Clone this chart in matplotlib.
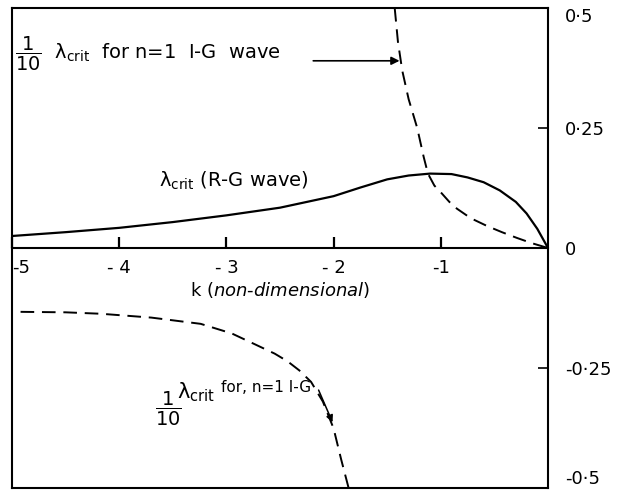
import numpy as np
import matplotlib.pyplot as plt

plt.rcParams['font.family'] = 'DejaVu Sans'
plt.rcParams['mathtext.fontset'] = 'dejavusans'

# R-G wave critical value (solid)
k_rg = [-5.0, -4.5, -4.0, -3.5, -3.0, -2.5, -2.0, -1.75, -1.5, -1.3, -1.1,
        -0.9, -0.75, -0.6, -0.45, -0.3, -0.2, -0.1, 0.0]
lam_rg = [0.025, 0.033, 0.042, 0.054, 0.068, 0.084, 0.108, 0.126, 0.143, 0.151,
          0.155, 0.154, 0.147, 0.137, 0.120, 0.096, 0.072, 0.040, 0.0]

# n=1 I-G wave, upper branch (dashed, scaled by 1/10)
k_ig_up = [-1.43, -1.40, -1.36, -1.30, -1.22, -1.16, -1.12, -1.06, -1.0, -0.92,
           -0.85, -0.72, -0.57, -0.43, -0.29, -0.15, 0.0]
lam_ig_up = [0.50, 0.43, 0.37, 0.31, 0.25, 0.19, 0.155, 0.13, 0.116, 0.096,
             0.082, 0.062, 0.046, 0.033, 0.021, 0.010, 0.0]

# n=1 I-G wave, lower branch
k_ig_lo = [-4.92, -4.5, -4.17, -3.7, -3.24, -2.95, -2.74, -2.55, -2.43, -2.32,
           -2.21, -2.1, -2.0, -1.93, -1.86]
lam_ig_lo = [-0.133, -0.134, -0.137, -0.145, -0.158, -0.178, -0.20, -0.22, -0.236,
             -0.255, -0.279, -0.32, -0.376, -0.44, -0.50]

k_ticks = [-5, -4, -3, -2, -1]
k_labels = ['-5', '- 4', '- 3', '- 2', '-1']
y_ticks = [-0.5, -0.25, 0, 0.25, 0.5]
y_labels = ['-0\u00b75', '-0\u00b725', '0', '0\u00b725', '0\u00b75']

fig = plt.figure(figsize=(6.26, 4.91), dpi=100)
ax = fig.add_axes([12 / 626, 3 / 491, 536 / 626, 480 / 491])

ax.plot(k_rg, lam_rg, color='black', lw=1.6)
ax.plot(k_ig_up, lam_ig_up, color='black', lw=1.4, dashes=(7, 4))
ax.plot(k_ig_lo, lam_ig_lo, color='black', lw=1.4, dashes=(7, 4))

ax.set_xlim(-5.0, 0.0)
ax.set_ylim(-0.5, 0.5)
for s in ax.spines.values():
    s.set_linewidth(1.5)

# k axis runs along lambda = 0; the frame is closed with a line at the bottom
ax.spines['bottom'].set_position(('data', 0))
ax.axhline(-0.5, color='black', lw=1.5, clip_on=False)
ax.set_xticks(k_ticks)
ax.set_xticklabels(k_labels)
ax.tick_params(axis='x', which='major', bottom=True, direction='in',
               length=8, width=1.6, color='black', pad=8, labelsize=13)
ax.get_xticklabels()[0].set_horizontalalignment('left')
ax.set_xlabel(r'k ($\mathit{non}$-$\mathit{dimensional}$)', fontsize=13, labelpad=2)

# y axis on the right, ticks pointing inwards
ax.yaxis.tick_right()
ax.set_yticks(y_ticks)
ax.set_yticklabels(y_labels)
ax.tick_params(axis='y', direction='in', length=7, width=1.2, pad=12, labelsize=13)
ylab = ax.get_yticklabels()
ylab[0].set_verticalalignment('bottom')
ylab[-1].set_verticalalignment('top')

# annotations
ax.text(-4.97, 0.405,
        r'$\dfrac{1}{10}$  λ$_{\mathrm{crit}}$  for n=1  I-G  wave',
        fontsize=14, va='center', ha='left')
ax.annotate('', xy=(-1.385, 0.39), xytext=(-2.19, 0.39),
            arrowprops=dict(arrowstyle='-|>', color='black', lw=1.2,
                            mutation_scale=12, shrinkA=0, shrinkB=0))

ax.text(-3.63, 0.14, r'λ$_{\mathrm{crit}}$ (R-G wave)', fontsize=14,
        va='center', ha='left')

ax.text(-3.67, -0.335, r'$\dfrac{1}{10}$', fontsize=14, va='center', ha='left')
ax.text(-3.46, -0.300, r'λ$_{\mathrm{crit}}$', fontsize=15, va='center', ha='left')
ax.text(-3.05, -0.290, 'for, n=1 I-G', fontsize=11, va='center', ha='left')
ax.annotate('', xy=(-2.01, -0.363), xytext=(-2.14, -0.296),
            arrowprops=dict(arrowstyle='-|>', color='black', lw=1.1,
                            mutation_scale=10, shrinkA=0, shrinkB=0))

fig.savefig('out.png', dpi=100)
